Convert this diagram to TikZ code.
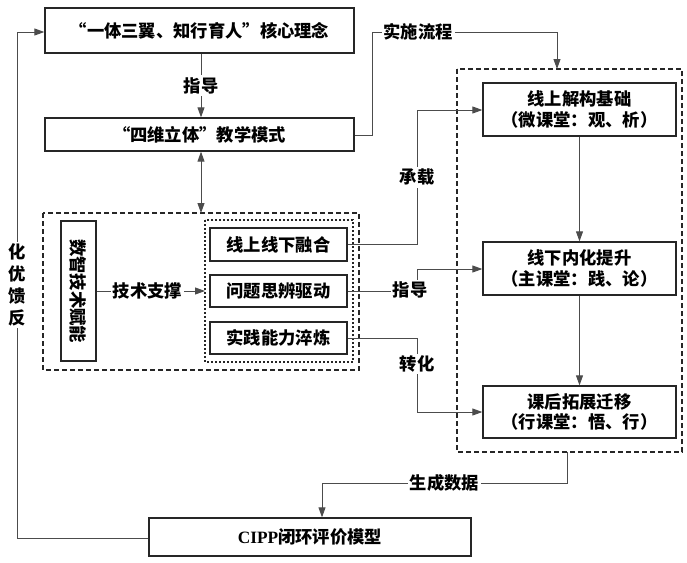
\documentclass[tikz,border=0pt]{standalone}
\usepackage{fontspec}
\setmainfont{Noto Sans CJK SC}
\newfontfamily\latinf{Liberation Serif}
\usetikzlibrary{arrows.meta}
\begin{document}
\begin{tikzpicture}[x=1pt,y=-1pt,
  every node/.style={font=\fontsize{17.3}{20.5}\selectfont\bfseries, inner sep=0pt},
  box/.style={draw=black!85, line width=1.3pt, fill=white, align=center},
  conn/.style={draw=black!70, line width=0.9pt},
  arr/.style={conn, -{Triangle[length=10pt,width=7pt]}},
  darr/.style={conn, {Triangle[length=10pt,width=7pt]}-{Triangle[length=10pt,width=7pt]}},
  lbl/.style={fill=white, inner sep=2pt},
  dashbox/.style={draw=black!85, line width=1.6pt, dash pattern=on 5pt off 3pt},
  dotbox/.style={draw=black!85, line width=1.2pt, dash pattern=on 2pt off 2pt}]
\useasboundingbox (0,0) rectangle (687,562);
\fill[white] (0,0) rectangle (687,562);

% dashed group frames
\draw[dashbox] (43,213) rectangle (359,370);
\draw[dotbox] (205,220) rectangle (353,362);
\draw[dashbox] (457,69) rectangle (682,452);
\coordinate (outerTop) at (201,213);
\coordinate (innerLeft) at (205,291);
\coordinate (rightTop) at (557,69);
\coordinate (rightBot) at (567,452);

% nodes
\node[box, minimum width=309pt, minimum height=45pt] (top) at (199.5,30.5) {“一体三翼、知行育人”核心理念};
\node[box, minimum width=309pt, minimum height=33pt] (mode) at (199.5,134.5) {“四维立体”教学模式};
\node[box, minimum width=35pt, minimum height=140pt] (sz) at (78.5,291) {};
\node[rotate=-90] at (sz.center) {数智技术赋能};
\node[box, minimum width=137pt, minimum height=33pt] (b1) at (278.5,244.5) {线上线下融合};
\node[box, minimum width=137pt, minimum height=32pt] (b2) at (278.5,291) {问题思辨驱动};
\node[box, minimum width=137pt, minimum height=32pt] (b3) at (278.5,338) {实践能力淬炼};
\node[box, minimum width=193pt, minimum height=53pt] (r1) at (579.5,109.5) {线上解构基础\\（微课堂：观、析）};
\node[box, minimum width=193pt, minimum height=53pt] (r2) at (579.5,268.5) {线下内化提升\\（主课堂：践、论）};
\node[box, minimum width=193pt, minimum height=52pt] (r3) at (579.5,412) {课后拓展迁移\\（行课堂：悟、行）};
\node[box, minimum width=322pt, minimum height=38pt] (cipp) at (310,537) {{\latinf\bfseries CIPP}闭环评价模型};

% connectors
\draw[arr] (top.south -| 201,0) -- node[lbl]{指导} (mode.north -| 201,0);
\draw[darr] (mode.south -| 201,0) -- (outerTop);
\draw[arr] (mode.east |- 0,135) -- (372,135) -- (372,32) -- node[lbl, pos=0.25]{实施流程} (557,32) -- (rightTop);
\draw[arr] (sz.east) -- node[lbl, pos=0.47]{技术支撑} (innerLeft);
\draw[arr] (b1.east) -- (417,244.5) -- node[lbl, pos=0.5]{承载} (417,110) -- (r1.west |- 0,110);
\draw[arr] (b2.east) -- (417,291) -- (417,269) -- (r2.west |- 0,269);
\node[lbl] (zd) at (410,290) {指导};
\draw[arr] (b3.east) -- (417,338) -- node[lbl, pos=0.35]{转化} (417,412) -- (r3.west);
\draw[arr] (r1.south) -- (r2.north);
\draw[arr] (r2.south) -- (r3.north);
\draw[arr] (rightBot) -- (567,483) -- node[lbl, pos=0.5]{生成数据} (322,483) -- (cipp.north -| 322,0);
\draw[arr] (cipp.west |- 0,538) -- (17,538) -- (17,32) -- (top.west |- 0,32);
\node[lbl, align=center, font=\fontsize{17.3}{22}\selectfont\bfseries] (fk) at (17,285) {化\\优\\馈\\反};
\end{tikzpicture}
\end{document}
